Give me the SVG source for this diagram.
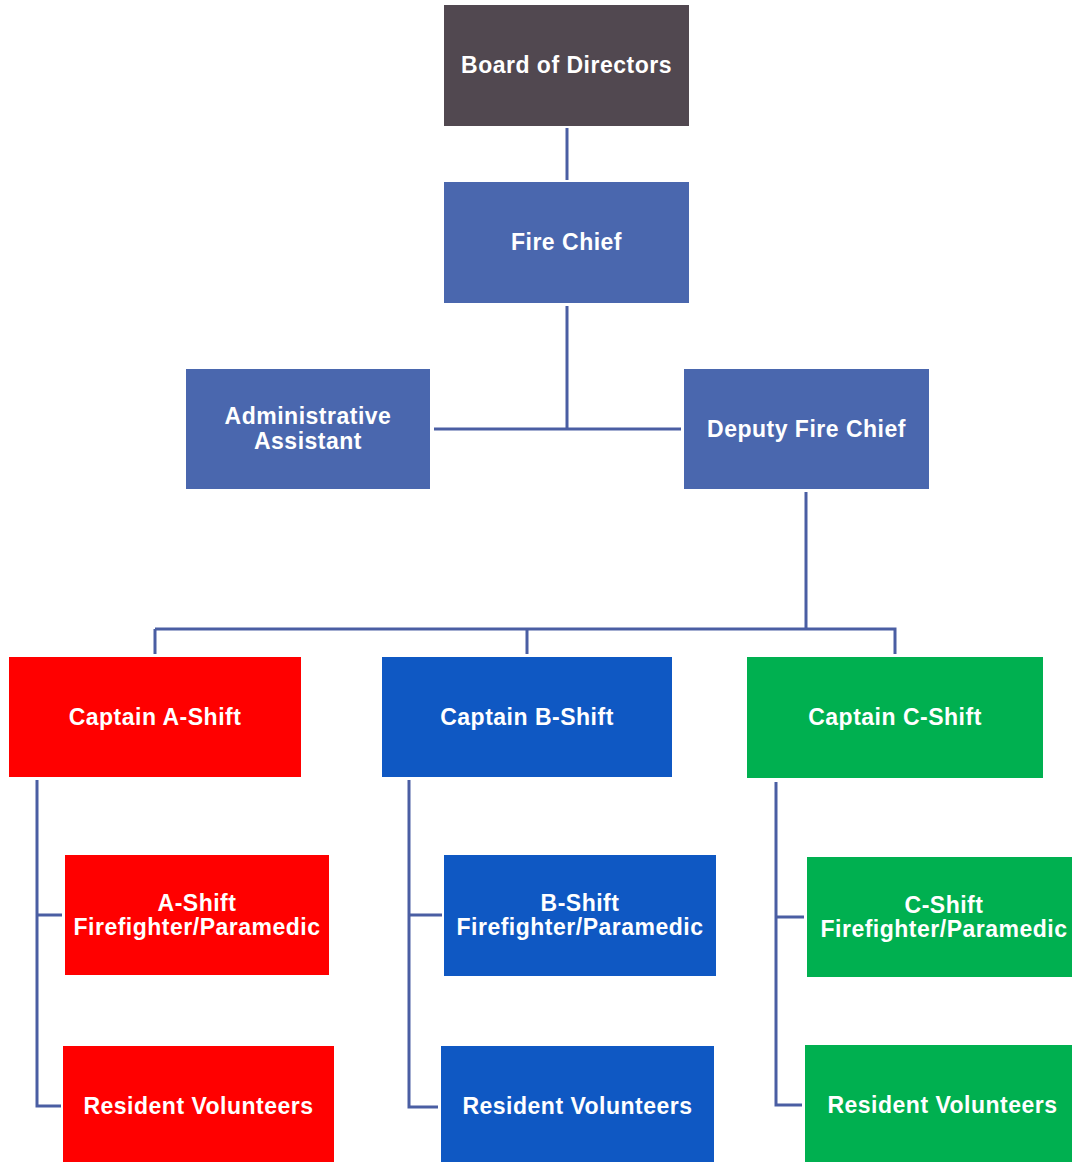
<svg xmlns="http://www.w3.org/2000/svg" width="1072" height="1162" viewBox="0 0 1072 1162">
<style>
text{font-family:"Liberation Sans",Arial,sans-serif;font-weight:bold;font-size:23px;fill:#fff;text-anchor:middle;letter-spacing:0.5px}
.c{fill:none;stroke:#4A5EA3;stroke-width:3}
.bd{fill:#514850}.fc{fill:#4A67AE}.r{fill:#FF0000}.b{fill:#0F58C3}.g{fill:#00B050}
</style>
<rect width="1072" height="1162" fill="#fff"/>
<g id="connectors">
<path class="c" d="M567 128V180"/>
<path class="c" d="M567 306V429M434 429H681"/>
<path class="c" d="M806 492V629M155 629H806M806 629H895V654M155 629V654M527 629V654"/>
<path class="c" d="M37 780V1106H61M37 915H62"/>
<path class="c" d="M409 780V1107H438M409 915H442"/>
<path class="c" d="M776 782V1105H802M776 917H804"/>
</g>
<g id="board"><rect class="bd" x="444" y="5" width="245" height="121"/><text x="566.5" y="73">Board of Directors</text></g>
<g id="fire-chief"><rect class="fc" x="444" y="182" width="245" height="121"/><text x="566.5" y="250">Fire Chief</text></g>
<g id="admin"><rect class="fc" x="186" y="369" width="244" height="120"/><text x="308" y="424">Administrative</text><text x="308" y="449">Assistant</text></g>
<g id="deputy"><rect class="fc" x="684" y="369" width="245" height="120"/><text x="806.5" y="437">Deputy Fire Chief</text></g>
<g id="captain-a"><rect class="r" x="9" y="657" width="292" height="120"/><text x="155" y="725">Captain A-Shift</text></g>
<g id="captain-b"><rect class="b" x="382" y="657" width="290" height="120"/><text x="527" y="725">Captain B-Shift</text></g>
<g id="captain-c"><rect class="g" x="747" y="657" width="296" height="121"/><text x="895" y="725">Captain C-Shift</text></g>
<g id="ff-a"><rect class="r" x="65" y="855" width="264" height="120"/><text x="197" y="911">A-Shift</text><text x="197" y="935">Firefighter/Paramedic</text></g>
<g id="ff-b"><rect class="b" x="444" y="855" width="272" height="121"/><text x="580" y="911">B-Shift</text><text x="580" y="935">Firefighter/Paramedic</text></g>
<g id="ff-c"><rect class="g" x="807" y="857" width="274" height="120"/><text x="944" y="913">C-Shift</text><text x="944" y="937">Firefighter/Paramedic</text></g>
<g id="rv-a"><rect class="r" x="63" y="1046" width="271" height="120"/><text x="198.5" y="1114">Resident Volunteers</text></g>
<g id="rv-b"><rect class="b" x="441" y="1046" width="273" height="120"/><text x="577.5" y="1114">Resident Volunteers</text></g>
<g id="rv-c"><rect class="g" x="805" y="1045" width="275" height="121"/><text x="942.5" y="1113">Resident Volunteers</text></g>
</svg>
